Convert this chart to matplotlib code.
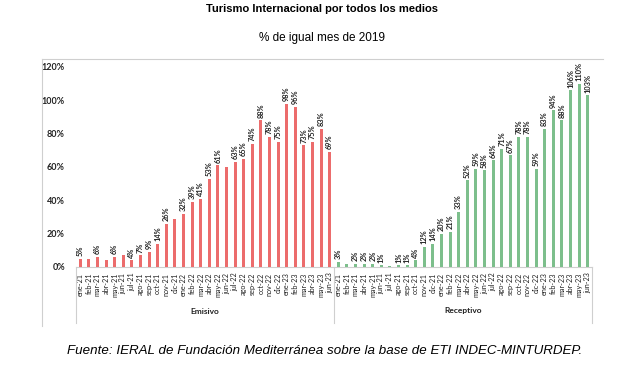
import matplotlib
matplotlib.use("Agg")
import matplotlib.pyplot as plt
import numpy as np
from matplotlib.lines import Line2D
import matplotlib.transforms as mtransforms

months = ["ene-21", "feb-21", "mar-21", "abr-21", "may-21", "jun-21", "jul-21", "ago-21",
          "sep-21", "oct-21", "nov-21", "dic-21", "ene-22", "feb-22", "mar-22", "abr-22",
          "may-22", "jun-22", "jul-22", "ago-22", "sep-22", "oct-22", "nov-22", "dic-22",
          "ene-23", "feb-23", "mar-23", "abr-23", "may-23", "jun-23"]
groups = ["Emisivo", "Receptivo"]

emisivo = [5, 5, 6, 4, 6, 7, 4, 7, 9, 14, 26, 29, 32, 39, 41, 53, 61, 60, 63, 65,
           74, 88, 78, 75, 98, 96, 73, 75, 83, 69]
emisivo_labels = ["5%", "", "6%", "", "6%", "", "4%", "7%", "9%", "14%", "26%", "", "32%",
                  "39%", "41%", "53%", "61%", "", "63%", "65%", "74%", "88%", "78%", "75%",
                  "98%", "96%", "73%", "75%", "83%", "69%"]

receptivo = [3, 2, 2, 2, 2, 1, 0.5, 1, 1, 4, 12, 14, 20, 21, 33, 52, 59, 58, 64, 71,
             67, 78, 78, 59, 83, 94, 88, 106, 110, 103]
receptivo_labels = ["3%", "", "2%", "2%", "2%", "1%", "", "1%", "1%", "4%", "12%", "14%",
                    "20%", "21%", "33%", "52%", "59%", "58%", "64%", "71%", "67%", "78%",
                    "78%", "59%", "83%", "94%", "88%", "106%", "110%", "103%"]

yticks = [0, 20, 40, 60, 80, 100, 120]

RED = "#EC6C6C"
GREEN = "#7DBF8C"
GRAY = "#CFCFCF"

fig = plt.figure(figsize=(6.29, 3.68), dpi=100)
W, H = 629, 368
ax = fig.add_axes([76 / W, 1 - 267 / H, (592 - 76) / W, 200 / H])

n = len(months)
x_e = np.arange(n)
x_r = np.arange(n) + n
bw = 0.34
ax.bar(x_e, emisivo, width=bw, color=RED, zorder=3)
ax.bar(x_r, receptivo, width=bw, color=GREEN, zorder=3)

lab_font = dict(family="Lato", fontsize=5.3, fontweight="bold", color="#222222")
for xs, vals, labs in ((x_e, emisivo, emisivo_labels), (x_r, receptivo, receptivo_labels)):
    for xi, v, lb in zip(xs, vals, labs):
        if lb:
            ax.annotate(lb, (xi, v), xytext=(0, 2), textcoords="offset points",
                        rotation=90, ha="center", va="bottom", **lab_font)

ax.set_xlim(-0.5, 2 * n - 0.5)
ax.set_ylim(0, 120)
ax.set_yticks(yticks)
ax.set_yticklabels([f"{t}%" for t in yticks], family="Lato", fontsize=6.5,
                   fontweight="bold", color="#222222")
ax.set_xticks(np.arange(2 * n))
ax.set_xticklabels(months + months, rotation=90, family="Lato", fontsize=5.2,
                   color="#222222", va="top", ha="center")
ax.tick_params(axis="both", length=0)
ax.tick_params(axis="y", pad=8)
ax.tick_params(axis="x", pad=4)

for s in ("top", "right", "left"):
    ax.spines[s].set_visible(False)
ax.spines["bottom"].set_color(GRAY)
ax.spines["bottom"].set_linewidth(0.8)

trans = mtransforms.blended_transform_factory(ax.transData, ax.transAxes)
for xv in (-0.5, n - 0.5, 2 * n - 0.5):
    ax.plot([xv, xv], [0, -0.28], transform=trans, color=GRAY, lw=0.8, clip_on=False)
for gi, g in enumerate(groups):
    ax.text(gi * n + (n - 1) / 2, -0.22, g, transform=trans, ha="center", va="center",
            family="Lato", fontsize=6, fontweight="bold", color="#222222")

# outer chart frame (top and left)
fig.add_artist(Line2D([42 / W, 603 / W], [1 - 59 / H, 1 - 59 / H], color=GRAY, lw=0.8))
fig.add_artist(Line2D([42 / W, 42 / W], [1 - 59 / H, 1 - 326 / H], color=GRAY, lw=0.8))

fig.text(322 / W, 1 - 9 / H, "Turismo Internacional por todos los medios",
         ha="center", va="center", family="Liberation Sans", fontsize=8, fontweight="bold")
fig.text(322 / W, 1 - 38 / H, "% de igual mes de 2019", ha="center", va="center",
         family="Liberation Sans", fontsize=8.5)
fig.text(325 / W, 1 - 351 / H,
         "Fuente: IERAL de Fundación Mediterránea sobre la base de ETI INDEC-MINTURDEP.",
         ha="center", va="center", family="Liberation Sans", fontsize=9.6, style="italic")

fig.savefig("out.png", dpi=100)
